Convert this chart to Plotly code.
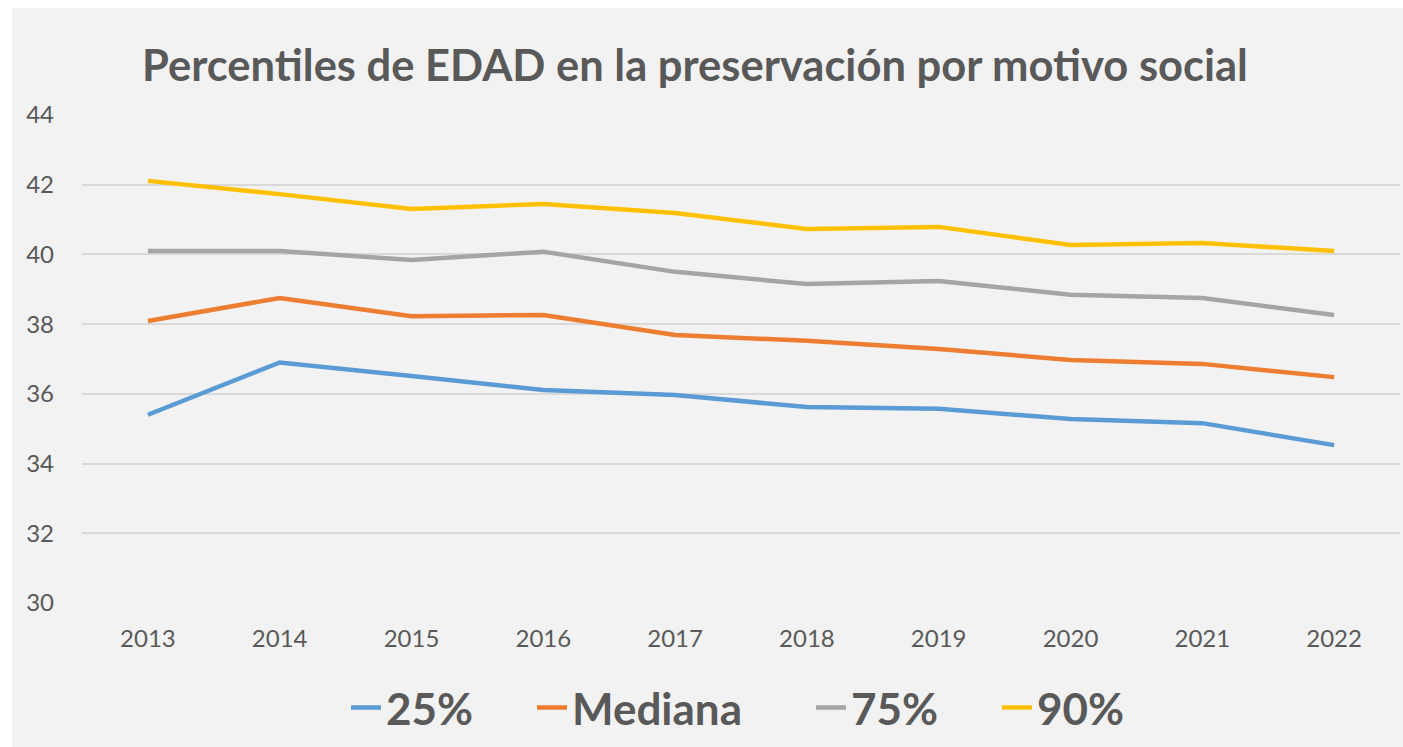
import plotly.graph_objects as go

years = ["2013", "2014", "2015", "2016", "2017", "2018", "2019", "2020", "2021", "2022"]
p25 = [35.4, 36.9, 36.51, 36.11, 35.97, 35.62, 35.57, 35.28, 35.16, 34.53]
mediana = [38.09, 38.75, 38.23, 38.26, 37.69, 37.52, 37.29, 36.97, 36.86, 36.48]
p75 = [40.1, 40.1, 39.84, 40.08, 39.5, 39.15, 39.24, 38.84, 38.75, 38.26]
p90 = [42.11, 41.73, 41.3, 41.45, 41.19, 40.73, 40.79, 40.27, 40.33, 40.1]

series_names = ["25%", "Mediana", "75%", "90%"]
series_vals = [p25, mediana, p75, p90]
series_colors = ["#5B9BD5", "#ED7D31", "#A5A5A5", "#FFC000"]

W, H = 1403, 747
L, R, T, B = 82, 3, 115, 144
pw, ph = W - L - R, H - T - B


def px2x(p):
    return (p - L) / pw


def py2y(p):
    return (H - B - p) / ph


legend_ids = ["legend", "legend2", "legend3", "legend4"]
legend_left_px = [346, 532, 811, 997]

fig = go.Figure()
for name, vals, col, lid in zip(series_names, series_vals, series_colors, legend_ids):
    fig.add_trace(go.Scatter(x=years, y=vals, name=name, mode="lines", legend=lid,
                             line=dict(color=col, width=4.5)))

legend_font = dict(size=44, color="#595959", family="Lato", weight="bold")
legends = {}
for lid, lx in zip(legend_ids, legend_left_px):
    legends[lid] = dict(orientation="h", x=px2x(lx), xanchor="left",
                        y=py2y(708), yanchor="middle", itemwidth=30,
                        font=legend_font, bgcolor="rgba(0,0,0,0)")

fig.update_layout(
    width=W, height=H,
    margin=dict(l=L, r=R, t=T, b=B),
    paper_bgcolor="#f2f2f2", plot_bgcolor="#f2f2f2",
    font=dict(family="Lato", color="#595959"),
    title=dict(text="<b>Percentiles de EDAD en la preservación por motivo social</b>",
               x=695 / W, xanchor="center", y=1 - 66 / H, yanchor="middle",
               font=dict(size=43.5, color="#595959", family="Lato")),
    xaxis=dict(type="category", range=[-0.5, 9.5], showgrid=False, zeroline=False,
               showline=False, ticks="", tickfont=dict(size=24, color="#595959"),
               ticklabelstandoff=19),
    yaxis=dict(range=[30, 44], dtick=2, showgrid=True, gridcolor="#d9d9d9", gridwidth=1.5,
               zeroline=False, showline=False, ticks="",
               tickfont=dict(size=24, color="#595959"), ticklabelstandoff=27),
    showlegend=True,
    **legends,
)

# white outer strips (top and left) as in the reference
fig.add_shape(type="rect", xref="paper", yref="paper",
              x0=px2x(-5), x1=px2x(W + 5), y0=py2y(8), y1=py2y(-5),
              fillcolor="white", line=dict(width=0), layer="above")
fig.add_shape(type="rect", xref="paper", yref="paper",
              x0=px2x(-5), x1=px2x(12), y0=py2y(H + 5), y1=py2y(-5),
              fillcolor="white", line=dict(width=0), layer="above")

fig.write_html("out.html", config={"displayModeBar": False},
               post_script="document.body.style.margin='0px';document.body.style.overflow='hidden';")
